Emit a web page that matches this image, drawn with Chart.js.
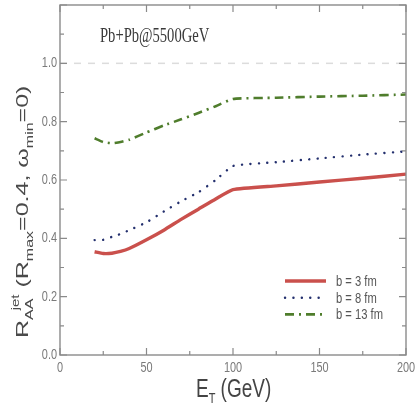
<!DOCTYPE html>
<html><head><meta charset="utf-8">
<script src="https://cdn.jsdelivr.net/npm/chart.js@4"></script>
<style>html,body{margin:0;padding:0;background:#fff}#wrap{width:420px;height:410px}</style>
</head><body><div id="wrap"><canvas id="c" width="420" height="410"></canvas></div>
<script>
const energy = [20,25,30,35,40,50,60,70,80,90,100,125,150,175,200];
const b3 = [0.354,0.348,0.349,0.355,0.365,0.395,0.428,0.465,0.500,0.535,0.567,0.580,0.593,0.606,0.620];
const b8 = [0.394,0.395,0.405,0.415,0.428,0.455,0.492,0.527,0.558,0.600,0.648,0.661,0.674,0.687,0.698];
const b13 = [0.743,0.730,0.726,0.730,0.738,0.763,0.787,0.808,0.830,0.853,0.878,0.882,0.886,0.889,0.893];
const refLine = [1.0,1.0];
const refX = [0,200];
const labels = ['b = 3 fm','b = 8 fm','b = 13 fm'];
const xTicks = [0,50,100,150,200];
const yTicks = [0,0.2,0.4,0.6,0.8,1.0];

const pts = (xs, ys) => xs.map((x,i)=>({x, y: ys[i]}));
const cols = ['rgb(202,80,76)','#24306e','#4f7d2c'];
const SANS = '"Liberation Sans", Arial, sans-serif';

function sText(ctx, txt, x, y, sx, align){
  ctx.save();
  ctx.translate(x, y);
  ctx.scale(sx, 1);
  ctx.textAlign = align || 'left';
  ctx.fillText(txt, 0, 0);
  ctx.restore();
}

const frame = {
  id:'frame',
  afterDatasetsDraw(chart){
    const ctx = chart.ctx, a = chart.chartArea, xs = chart.scales.x, ys = chart.scales.y;
    ctx.save();
    ctx.strokeStyle = '#8a8a8a'; ctx.lineWidth = 1.4;
    ctx.strokeRect(a.left, a.top, a.right-a.left, a.bottom-a.top);
    ctx.lineWidth = 1.2;
    for (let v=0; v<=200; v+=25){
      const p = xs.getPixelForValue(v), L = (v%50===0)?7:4;
      ctx.beginPath(); ctx.moveTo(p,a.bottom); ctx.lineTo(p,a.bottom-L);
      ctx.moveTo(p,a.top); ctx.lineTo(p,a.top+L); ctx.stroke();
    }
    for (let k=0; k<=12; k++){
      const v = k/10, p = ys.getPixelForValue(v), L = (k%2===0)?7:4;
      ctx.beginPath(); ctx.moveTo(a.left,p); ctx.lineTo(a.left+L,p);
      ctx.moveTo(a.right,p); ctx.lineTo(a.right-L,p); ctx.stroke();
    }
    // tick labels from the library's scales
    ctx.fillStyle = '#7a7a7a';
    ctx.font = '14px ' + SANS;
    ctx.textBaseline = 'middle';
    xs.ticks.forEach(t => sText(ctx, String(t.value), xs.getPixelForValue(t.value), a.bottom + 13, 0.78, 'center'));
    ys.ticks.forEach(t => sText(ctx, t.value.toFixed(1), a.left - 3, ys.getPixelForValue(t.value), 0.78, 'right'));
    // title text
    ctx.fillStyle = '#3a3a3a';
    ctx.font = '20px "Liberation Serif", "DejaVu Serif", serif';
    ctx.textBaseline = 'alphabetic';
    sText(ctx, 'Pb+Pb@5500GeV', 100, 42, 0.73, 'left');
    // legend
    const ds = chart.data.datasets;
    ctx.font = '14px ' + SANS;
    ctx.textBaseline = 'middle';
    for (let i=0;i<3;i++){
      const d = ds[i], y = 281 + i*16.7;
      ctx.save();
      ctx.strokeStyle = d.borderColor; ctx.lineWidth = d.borderWidth;
      ctx.setLineDash(d.borderDash||[]);
      ctx.lineCap = d.borderCapStyle || 'butt';
      ctx.beginPath(); ctx.moveTo(285,y); ctx.lineTo(326,y); ctx.stroke();
      ctx.restore();
      ctx.fillStyle = '#555';
      sText(ctx, labels[i], 336, y+1, 0.8, 'left');
    }
    // x title
    ctx.fillStyle = '#444';
    ctx.textBaseline = 'alphabetic';
    ctx.save();
    ctx.translate(196, 397);
    ctx.scale(0.73, 1);
    ctx.font = '26px ' + SANS;
    ctx.fillText('E', 0, 0);
    let w = ctx.measureText('E').width;
    ctx.font = '15px ' + SANS;
    ctx.fillText('T', w, 6);
    let w2 = ctx.measureText('T').width;
    ctx.font = '26px ' + SANS;
    ctx.fillText(' (GeV)', w+w2, 0);
    ctx.restore();
    // y title
    ctx.save();
    ctx.fillStyle = '#4a4a4a';
    ctx.translate(28, 338);
    ctx.rotate(-Math.PI/2);
    ctx.scale(1, 0.68);
    const segs = [
      ['R',25,0],['AA',16,8],['jet',15,-13,true],[' (R',25,0],['max',16,8],['=0.4, ω',25,0],['min',16,8],['=0)',25,0]
    ];
    let cx = 0, lastW = 0;
    for (const s of segs){
      ctx.font = s[1]+'px ' + SANS;
      let ox = cx;
      if (s[3]) ox = cx - lastW*0.55;
      ctx.fillText(s[0], ox, s[2]);
      const ww = ctx.measureText(s[0]).width;
      if (s[3]) cx = ox + ww; else cx += ww;
      lastW = ww;
    }
    ctx.restore();
    ctx.restore();
  }
};

new Chart(document.getElementById('c'), {
  type:'line',
  data:{ datasets:[
    {label:labels[0], data:pts(energy,b3), borderColor:cols[0], borderWidth:3.4, pointRadius:0, tension:0.15},
    {label:labels[1], data:pts(energy,b8), borderColor:cols[1], borderWidth:2.4, borderDash:[0.1,8.3], borderCapStyle:'round', pointRadius:0, tension:0.15},
    {label:labels[2], data:pts(energy,b13), borderColor:cols[2], borderWidth:2.6, borderDash:[9,5,2,5], pointRadius:0, tension:0.15},
    {label:'ref', data:pts(refX,refLine), borderColor:'#dcdcdc', borderWidth:1.5, borderDash:[7,7], pointRadius:0}
  ]},
  options:{
    responsive:false, animation:false, events:[],
    layout:{padding:{top:5,right:14,left:0,bottom:0}},
    plugins:{legend:{display:false}, tooltip:{enabled:false}},
    scales:{
      x:{type:'linear', min:0, max:200,
        afterFit(s){ s.height = 55; },
        afterBuildTicks(s){ s.ticks = xTicks.map(v=>({value:v})); },
        grid:{display:false}, border:{display:false},
        ticks:{display:false}
      },
      y:{type:'linear', min:0, max:1.2,
        afterFit(s){ s.width = 60; },
        afterBuildTicks(s){ s.ticks = yTicks.map(v=>({value:v})); },
        grid:{display:false}, border:{display:false},
        ticks:{display:false}
      }
    }
  },
  plugins:[frame]
});
</script></body></html>
